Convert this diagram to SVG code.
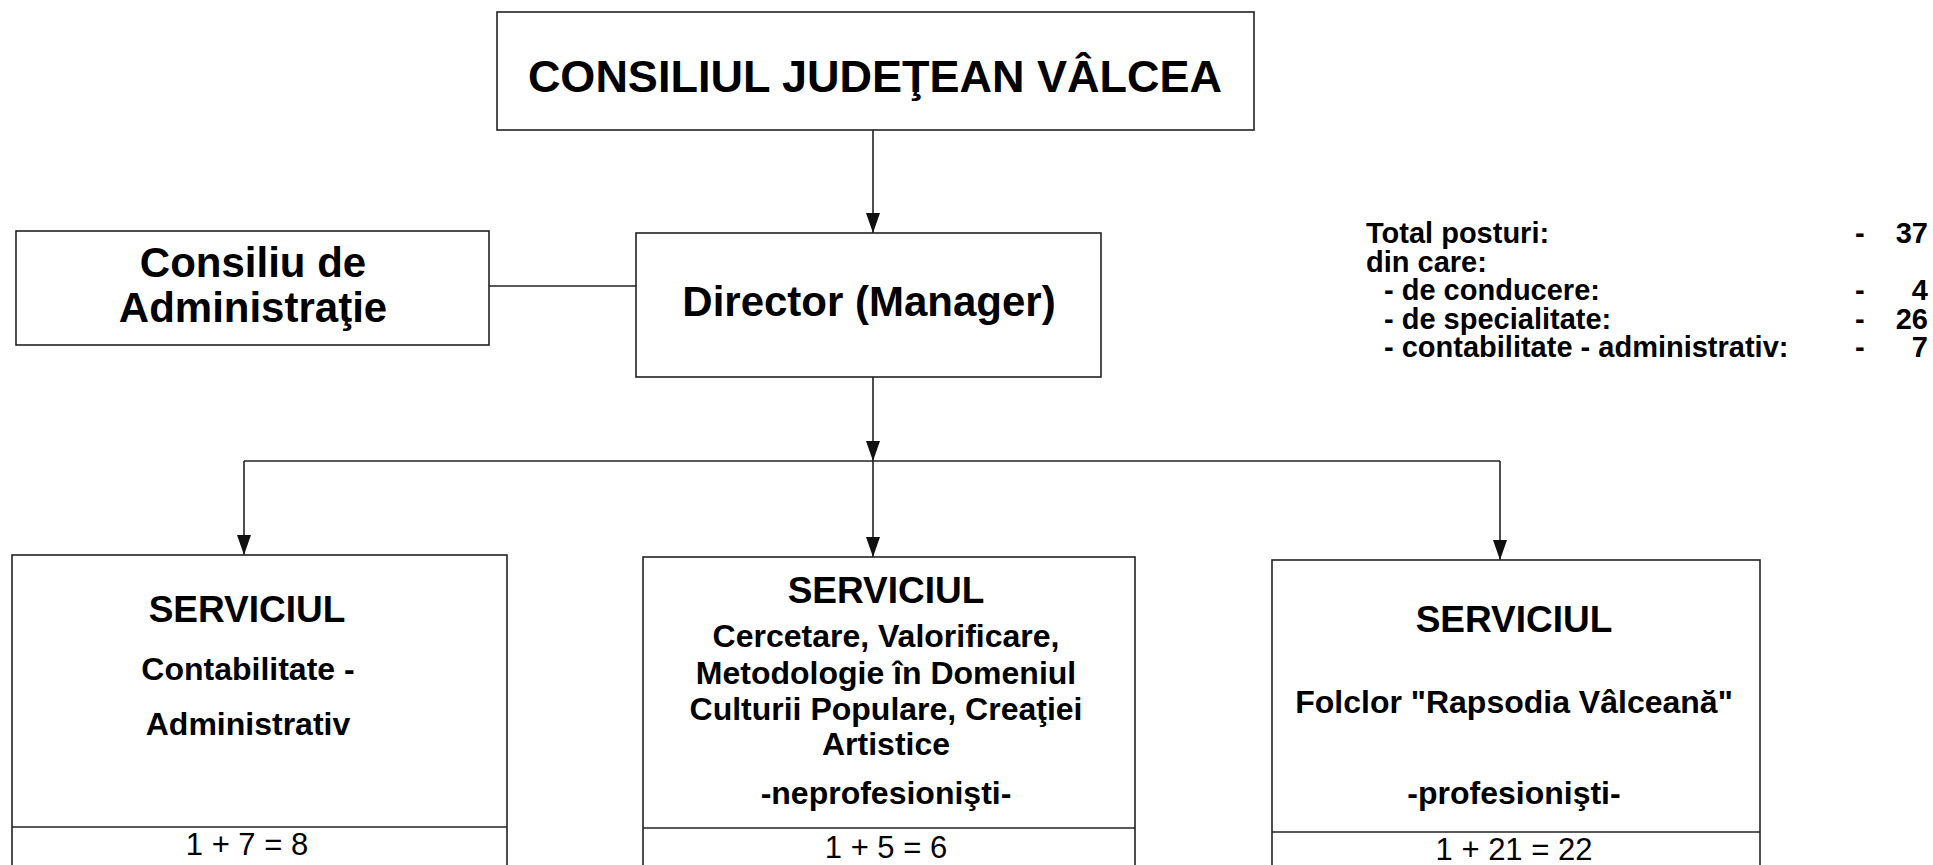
<svg xmlns="http://www.w3.org/2000/svg" width="1933" height="865" viewBox="0 0 1933 865">
<style>
.box{fill:#fff;stroke:#222;stroke-width:1.6}
.ln{fill:none;stroke:#222;stroke-width:1.6}
text{font-family:"Liberation Sans",Arial,sans-serif;fill:#000;text-anchor:middle}
.b{font-weight:bold}
.t{font-size:45px}
.m{font-size:42px}
.s{font-size:37px}
.d{font-size:32px}
.n{font-size:31px;font-weight:normal}
.r{font-size:29px;font-weight:bold;text-anchor:start}
.re{font-size:29px;font-weight:bold;text-anchor:end}
</style>
<defs>
<marker id="arr" markerUnits="userSpaceOnUse" markerWidth="20" markerHeight="14" refX="20" refY="7" orient="auto">
<path d="M0,0 L20,7 L0,14 Z" fill="#111"/>
</marker>
</defs>
<rect width="1933" height="865" fill="#fff"/>

<g id="connectors">
<line class="ln" x1="873" y1="130" x2="873" y2="233" marker-end="url(#arr)"/>
<line class="ln" x1="489" y1="286" x2="636" y2="286"/>
<line class="ln" x1="873" y1="377" x2="873" y2="461" marker-end="url(#arr)"/>
<line class="ln" x1="244" y1="461" x2="1500" y2="461"/>
<line class="ln" x1="244" y1="461" x2="244" y2="555" marker-end="url(#arr)"/>
<line class="ln" x1="873" y1="461" x2="873" y2="557" marker-end="url(#arr)"/>
<line class="ln" x1="1500" y1="461" x2="1500" y2="560" marker-end="url(#arr)"/>
</g>

<g id="consiliul-judetean">
<rect class="box" x="497" y="12" width="757" height="118"/>
<text class="b t" x="875" y="92">CONSILIUL JUDEŢEAN VÂLCEA</text>
</g>

<g id="consiliu-administratie">
<rect class="box" x="16" y="231" width="473" height="114"/>
<text class="b m" x="253" y="277">Consiliu de</text>
<text class="b m" x="253" y="322">Administraţie</text>
</g>

<g id="director">
<rect class="box" x="636" y="233" width="465" height="144"/>
<text class="b m" x="869" y="316">Director (Manager)</text>
</g>

<g id="total-posturi">
<text class="r" x="1366" y="243">Total posturi:</text>
<text class="r" x="1366" y="271.5">din care:</text>
<text class="r" x="1384" y="300">- de conducere:</text>
<text class="r" x="1384" y="328.5">- de specialitate:</text>
<text class="r" x="1384" y="357">- contabilitate - administrativ:</text>
<text class="r" x="1855" y="243">-</text>
<text class="r" x="1855" y="300">-</text>
<text class="r" x="1855" y="328.5">-</text>
<text class="r" x="1855" y="357">-</text>
<text class="re" x="1928" y="243">37</text>
<text class="re" x="1928" y="300">4</text>
<text class="re" x="1928" y="328.5">26</text>
<text class="re" x="1928" y="357">7</text>
</g>

<g id="serviciul-contabilitate">
<rect class="box" x="12" y="555" width="495" height="320"/>
<line class="ln" x1="12" y1="827" x2="507" y2="827"/>
<text class="b s" x="247" y="622">SERVICIUL</text>
<text class="b d" x="248" y="680">Contabilitate -</text>
<text class="b d" x="248" y="735">Administrativ</text>
<text class="n" x="247" y="855">1 + 7 = 8</text>
</g>

<g id="serviciul-cercetare">
<rect class="box" x="643" y="557" width="492" height="320"/>
<line class="ln" x1="643" y1="828" x2="1135" y2="828"/>
<text class="b s" x="886" y="603">SERVICIUL</text>
<text class="b d" x="886" y="647">Cercetare, Valorificare,</text>
<text class="b d" x="886" y="684">Metodologie în Domeniul</text>
<text class="b d" x="886" y="720">Culturii Populare, Creaţiei</text>
<text class="b d" x="886" y="755">Artistice</text>
<text class="b d" x="886" y="804">-neprofesionişti-</text>
<text class="n" x="886" y="858">1 + 5 = 6</text>
</g>

<g id="serviciul-folclor">
<rect class="box" x="1272" y="560" width="488" height="320"/>
<line class="ln" x1="1272" y1="832" x2="1760" y2="832"/>
<text class="b s" x="1514" y="632">SERVICIUL</text>
<text class="b d" x="1514" y="713">Folclor "Rapsodia Vâlceană"</text>
<text class="b d" x="1514" y="804">-profesionişti-</text>
<text class="n" x="1514" y="860">1 + 21 = 22</text>
</g>
</svg>
